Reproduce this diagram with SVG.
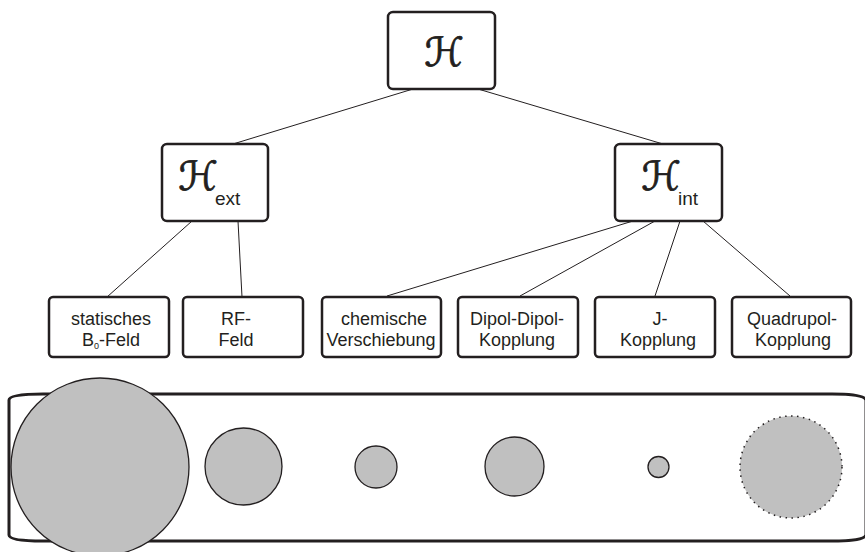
<svg xmlns="http://www.w3.org/2000/svg" width="865" height="552" viewBox="0 0 865 552">
<style>
.box{fill:#fff;stroke:#231f20;stroke-width:2.5}
.edge{stroke:#231f20;stroke-width:1;fill:none}
.lbl{font-family:"Liberation Sans",Arial,sans-serif;font-size:18px;fill:#231f20;text-anchor:middle}
.h{font-family:"DejaVu Sans",serif;font-size:40px;fill:#231f20;stroke:#231f20;stroke-width:0.8;text-anchor:middle}
.sub{font-family:"Liberation Sans",Arial,sans-serif;font-size:19px;fill:#231f20}
.disk{fill:#c0c0c0;stroke:#231f20;stroke-width:1.3}
</style>
<rect width="865" height="552" fill="#fff"/>
<g id="connectors">
<line class="edge" x1="413" y1="89" x2="233" y2="144"/>
<line class="edge" x1="478" y1="89" x2="663" y2="144"/>
<line class="edge" x1="192" y1="221" x2="107" y2="297"/>
<line class="edge" x1="238" y1="221" x2="242" y2="297"/>
<line class="edge" x1="633" y1="221" x2="387" y2="296"/>
<line class="edge" x1="655" y1="221" x2="520" y2="296"/>
<line class="edge" x1="680" y1="221" x2="655" y2="296"/>
<line class="edge" x1="703" y1="221" x2="790" y2="296"/>
</g>
<g id="H">
<rect class="box" x="388" y="12" width="107" height="77" rx="5"/>
<text class="h" x="444" y="66">ℋ</text>
</g>
<g id="Hext">
<rect class="box" x="162" y="144" width="106" height="77" rx="5"/>
<text class="h" x="198" y="190">ℋ</text>
<text class="sub" x="215" y="205">ext</text>
</g>
<g id="Hint">
<rect class="box" x="615" y="144" width="107" height="77" rx="5"/>
<text class="h" x="661" y="190">ℋ</text>
<text class="sub" x="678" y="205">int</text>
</g>
<g id="statisch">
<rect class="box" x="49" y="297" width="120" height="60" rx="4"/>
<text class="lbl" x="111" y="325">statisches</text>
<text class="lbl" x="111" y="346">B<tspan font-size="9" dy="3">0</tspan><tspan dy="-3">-Feld</tspan></text>
</g>
<g id="rf">
<rect class="box" x="183" y="297" width="120" height="60" rx="4"/>
<text class="lbl" x="236" y="325">RF-</text>
<text class="lbl" x="236" y="346">Feld</text>
</g>
<g id="chem">
<rect class="box" x="322" y="297" width="119" height="60" rx="4"/>
<text class="lbl" x="384" y="325">chemische</text>
<text class="lbl" x="381" y="346">Verschiebung</text>
</g>
<g id="dipol">
<rect class="box" x="458" y="297" width="120" height="60" rx="4"/>
<text class="lbl" x="517" y="325">Dipol-Dipol-</text>
<text class="lbl" x="517" y="346">Kopplung</text>
</g>
<g id="j">
<rect class="box" x="595" y="297" width="120" height="60" rx="4"/>
<text class="lbl" x="660" y="325">J-</text>
<text class="lbl" x="658" y="346">Kopplung</text>
</g>
<g id="quad">
<rect class="box" x="732" y="297" width="119" height="60" rx="4"/>
<text class="lbl" x="792" y="325">Quadrupol-</text>
<text class="lbl" x="793" y="346">Kopplung</text>
</g>
<g id="panel">
<path d="M43 394 H832 Q864 394 866 400 V535 Q864 541 832 541 H43 Q9 541 9 535 V400 Q9 394 43 394 Z" fill="#fff" stroke="#231f20" stroke-width="3"/>
<circle class="disk" cx="100" cy="467" r="89"/>
<circle class="disk" cx="243.5" cy="466.5" r="38.5"/>
<circle class="disk" cx="376" cy="467" r="21"/>
<circle class="disk" cx="514.5" cy="466.5" r="29.5"/>
<circle class="disk" cx="658.5" cy="467" r="10.5"/>
<circle cx="791" cy="467" r="51" fill="#c0c0c0" stroke="#231f20" stroke-width="1.5" stroke-dasharray="1.5 4.5"/>
</g>
</svg>
